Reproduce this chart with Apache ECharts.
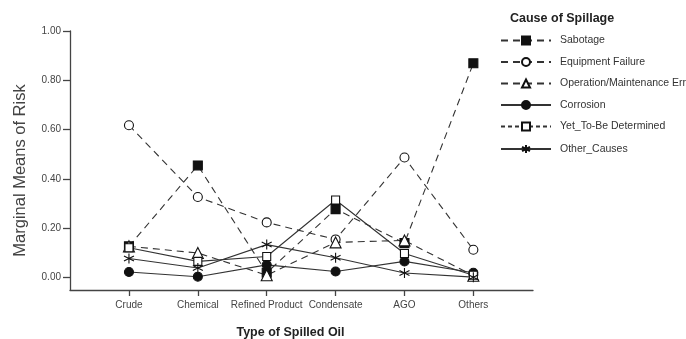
<!DOCTYPE html>
<html>
<head>
<meta charset="utf-8">
<script src="https://cdn.jsdelivr.net/npm/echarts@6/dist/echarts.min.js"></script>
<style>html,body{margin:0;padding:0;background:#fff}#c{width:686px;height:339px}</style>
</head>
<body>
<div id="c"></div>
<script>
// Data
var categories = ['Crude', 'Chemical', 'Refined Product', 'Condensate', 'AGO', 'Others'];
var yTicks = [0, 0.2, 0.4, 0.6, 0.8, 1.0];
var sabotage = [0.127, 0.455, 0.02, 0.278, 0.14, 0.869];
var equipmentFailure = [0.618, 0.327, 0.224, 0.155, 0.487, 0.113];
var operationError = [0.127, 0.10, 0.01, 0.143, 0.151, 0.008];
var corrosion = [0.023, 0.004, 0.052, 0.025, 0.066, 0.02];
var yetToBeDetermined = [0.121, 0.066, 0.086, 0.315, 0.098, 0.01];
var otherCauses = [0.078, 0.039, 0.134, 0.081, 0.019, 0.002];

var FONT = '"Liberation Sans", Arial, sans-serif';
var INK = '#333333';
var STAR = 'path://M0,-5L0,5M-4.33,-2.5L4.33,2.5M-4.33,2.5L4.33,-2.5';

function pairs(vals) {
  return vals.map(function (v, i) { return [i + 1, v]; });
}

function mk(name, vals, symbol, size, fill, dashed) {
  return {
    name: name,
    type: 'line',
    data: pairs(vals),
    symbol: symbol,
    symbolSize: size,
    showAllSymbol: true,
    animation: false,
    lineStyle: { color: INK, width: 1.1, type: dashed ? [7, 5] : 'solid' },
    itemStyle: { color: fill, borderColor: '#111', borderWidth: 1.1 },
    emphasis: { disabled: true },
    z: 2
  };
}

var series = [
  mk('Sabotage', sabotage, 'rect', 9, '#111', true),
  mk('Equipment Failure', equipmentFailure, 'circle', 9, '#fff', true),
  mk('Operation/Maintenance Error', operationError, 'triangle', 11, '#fff', true),
  mk('Corrosion', corrosion, 'circle', 9, '#111', false),
  mk('Yet_To-Be Determined', yetToBeDetermined, 'rect', 8, '#fff', false),
  mk('Other_Causes', otherCauses, STAR, 10, 'none', false)
];

var legendData = series.map(function (s, i) {
  var item = { name: s.name };
  if (i === 4) item.lineStyle = { type: [4, 3] };
  return item;
});

var chart = echarts.init(document.getElementById('c'), null, { renderer: 'canvas' });
chart.setOption({
  backgroundColor: '#fff',
  animation: false,
  grid: { left: 70, right: 153, top: 31, bottom: 49, containLabel: false, outerBoundsMode: 'none' },
  title: {
    text: 'Cause of Spillage',
    left: 505, top: 7,
    textStyle: { fontFamily: FONT, fontSize: 12.5, fontWeight: 'bold', color: '#222' }
  },
  legend: {
    orient: 'vertical',
    left: 500, top: 35, padding: 0,
    itemWidth: 50, itemHeight: 10, itemGap: 10.5,
    textStyle: { fontFamily: FONT, fontSize: 10.5, color: '#333', padding: [0, 0, 0, 4] },
    selectedMode: false,
    data: legendData
  },
  xAxis: {
    type: 'value',
    min: 0.144, max: 6.866,
    name: 'Type of Spilled Oil',
    nameLocation: 'middle',
    nameGap: 36,
    nameTextStyle: { fontFamily: FONT, fontSize: 12.5, fontWeight: 'bold', color: '#222', padding: [0, 22, 0, 0] },
    axisLine: { show: true, onZero: false, lineStyle: { color: '#444', width: 1.3 } },
    axisTick: { show: true, length: 6, lineStyle: { color: '#444', width: 1.3 }, customValues: [1, 2, 3, 4, 5, 6] },
    axisLabel: {
      customValues: [1, 2, 3, 4, 5, 6],
      margin: 10,
      fontFamily: FONT, fontSize: 10, color: '#444',
      formatter: function (v) { return categories[Math.round(v) - 1] || ''; }
    },
    splitLine: { show: false }
  },
  yAxis: {
    type: 'value',
    min: -0.05, max: 1.0,
    name: 'Marginal Means of Risk',
    nameLocation: 'middle',
    nameGap: 41,
    nameTextStyle: { fontFamily: FONT, fontSize: 16.5, color: '#444', padding: [0, 20, 0, 0] },
    axisLine: { show: true, onZero: false, lineStyle: { color: '#444', width: 1.3 } },
    axisTick: { show: true, length: 7, lineStyle: { color: '#444', width: 1.3 }, customValues: yTicks },
    axisLabel: {
      customValues: yTicks,
      margin: 9,
      fontFamily: FONT, fontSize: 10, color: '#444',
      formatter: function (v) { return v.toFixed(2); }
    },
    splitLine: { show: false }
  },
  series: series
});
</script>
</body>
</html>
